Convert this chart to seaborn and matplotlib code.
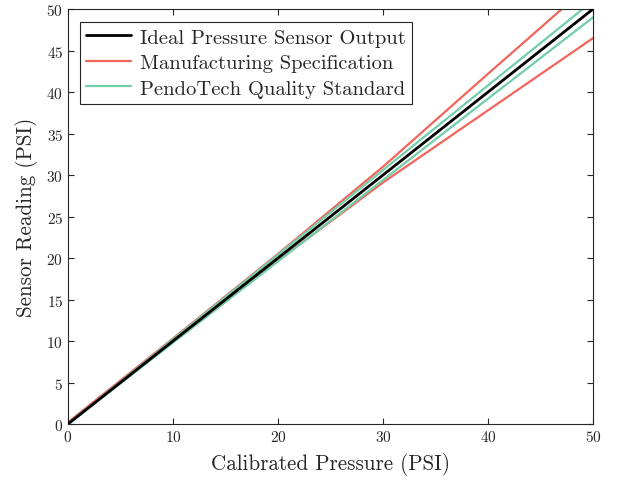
import numpy as np
import pandas as pd
import matplotlib
matplotlib.use("Agg")
import matplotlib.pyplot as plt
import seaborn as sns

# Values (PSI)
calibrated = [0, 10, 20, 30, 40, 50]
ideal = [0, 10, 20, 30, 40, 50]
mfg_upper = [0.2, 10.3, 20.5, 31.0, 42.2, 53.3]
mfg_lower = [0.1, 10.0, 19.7, 29.1, 37.8, 46.5]
pt_upper = [0.0, 10.2, 20.4, 30.6, 40.8, 51.0]
pt_lower = [0.0, 9.8, 19.6, 29.4, 39.2, 49.0]

red = "#F2655A"
green = "#72CDA9"

sns.set_style("ticks")
plt.rcParams["font.family"] = ["cmr10", "DejaVu Serif"]
plt.rcParams["mathtext.fontset"] = "cm"
plt.rcParams["axes.formatter.use_mathtext"] = True
plt.rcParams["xtick.direction"] = "in"
plt.rcParams["ytick.direction"] = "in"

fig = plt.figure(figsize=(6.18, 4.81), dpi=100)
ax = fig.add_axes([0.110, 0.1164, 0.8495, 0.8626])

sns.lineplot(x=calibrated, y=ideal, ax=ax, color="black", linewidth=2.0,
             label="Ideal Pressure Sensor Output", zorder=3)
sns.lineplot(x=calibrated, y=mfg_upper, ax=ax, color=red, linewidth=1.6,
             label="Manufacturing Specification", zorder=2)
sns.lineplot(x=calibrated, y=mfg_lower, ax=ax, color=red, linewidth=1.6, zorder=2)
sns.lineplot(x=calibrated, y=pt_upper, ax=ax, color=green, linewidth=1.6,
             label="PendoTech Quality Standard", zorder=2.5)
sns.lineplot(x=calibrated, y=pt_lower, ax=ax, color=green, linewidth=1.6, zorder=2.5)

ax.set_xlim(0, 50)
ax.set_ylim(0, 50)
ax.set_xticks(range(0, 51, 10))
ax.set_yticks(range(0, 51, 5))
ax.tick_params(axis="both", labelsize=11, top=True, right=True, length=4,
               color="#262626", labelcolor="#262626")
for s in ax.spines.values():
    s.set_visible(True)
    s.set_color("#262626")
    s.set_linewidth(0.8)

ax.set_xlabel("Calibrated Pressure (PSI)", fontsize=15.2, color="#262626", labelpad=6)
ax.set_ylabel("Sensor Reading (PSI)", fontsize=15.2, color="#262626", labelpad=6)

leg = ax.legend(loc="upper left", fontsize=14.8, frameon=True, fancybox=False,
                edgecolor="#262626", framealpha=1, borderpad=0.3,
                labelspacing=0.35, handlelength=2.2, handletextpad=0.4,
                borderaxespad=0, bbox_to_anchor=(0.023, 0.969))
leg.get_frame().set_linewidth(0.8)

fig.savefig("out.png", dpi=100)
